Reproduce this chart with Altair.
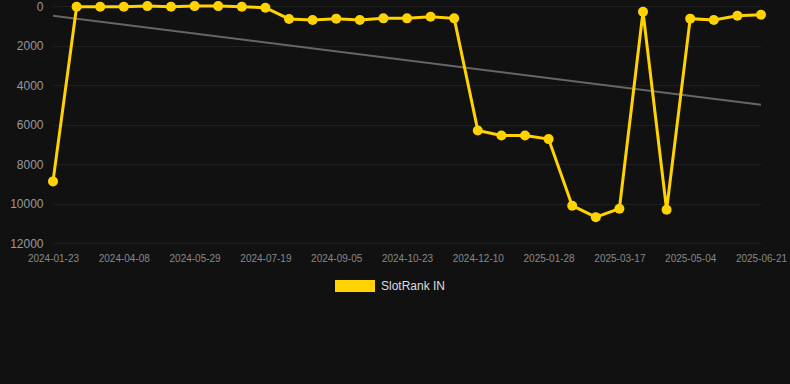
import altair as alt
import pandas as pd

dates = [
    "2024-01-23", "2024-02-14", "2024-03-12", "2024-04-08", "2024-04-25", "2024-05-12",
    "2024-05-29", "2024-06-15", "2024-07-02", "2024-07-19", "2024-08-04", "2024-08-20",
    "2024-09-05", "2024-09-21", "2024-10-07", "2024-10-23", "2024-11-08", "2024-11-24",
    "2024-12-10", "2024-12-26", "2025-01-12", "2025-01-28", "2025-02-13", "2025-03-01",
    "2025-03-17", "2025-04-02", "2025-04-18", "2025-05-04", "2025-05-20", "2025-06-05",
    "2025-06-21",
]
ranks = [
    8880, 35, 35, 35, 5, 35, 5, 5, 35, 85, 655, 705, 640, 705, 625, 625, 540, 625,
    6300, 6560, 6560, 6740, 10110, 10690, 10265, 290, 10315, 640, 705, 490, 440,
]
tick_labels = dates[::3]
trend_x = [dates[0], dates[-1]]
trend_y = [490, 5000]
series_name = "SlotRank IN"

YELLOW = "#FFD200"

df = pd.DataFrame({"date": dates, "rank": ranks, "series": series_name})
tdf = pd.DataFrame({"date": trend_x, "rank": trend_y})

x_enc = alt.X(
    "date:O",
    sort=dates,
    scale=alt.Scale(domain=dates, type="point", padding=0),
    axis=alt.Axis(values=tick_labels, labelAngle=0, title=None),
)
y_enc = alt.Y(
    "rank:Q",
    scale=alt.Scale(domain=[0, 12000], reverse=True, nice=False),
    axis=alt.Axis(values=[0, 2000, 4000, 6000, 8000, 10000, 12000], format="d", title=None),
)

trend = alt.Chart(tdf).mark_line(color="#666666", strokeWidth=2).encode(x=x_enc, y=y_enc)

color_enc = alt.Color(
    "series:N",
    scale=alt.Scale(domain=[series_name], range=[YELLOW]),
    legend=alt.Legend(
        title=None,
        orient="none",
        legendX=282,
        legendY=260,
        symbolType="M-1,-0.3L1,-0.3L1,0.3L-1,0.3Z",
        symbolSize=1600,
        symbolFillColor=YELLOW,
        symbolStrokeWidth=0,
        labelColor="#dddddd",
        labelFontSize=12,
        labelFont="Liberation Sans",
        labelOffset=6,
    ),
)

line = alt.Chart(df).mark_line(strokeWidth=3).encode(x=x_enc, y=y_enc, color=color_enc)
pts = alt.Chart(df).mark_circle(size=100, opacity=1).encode(
    x=x_enc, y=y_enc, color=alt.Color("series:N", scale=alt.Scale(domain=[series_name], range=[YELLOW]), legend=None)
)

chart = (
    alt.layer(trend, line, pts)
    .properties(
        width=708,
        height=237,
        background="#111111",
        padding={"left": 53, "top": 6, "right": 29, "bottom": 141},
        autosize=alt.AutoSizeParams(type="none"),
    )
    .configure_view(stroke=None)
    .configure_axis(
        domain=False,
        ticks=False,
        gridColor="#1f1f1f",
        gridWidth=1,
        labelFont="Liberation Sans",
    )
    .configure_axisX(labelColor="#888888", labelFontSize=10, labelPadding=10)
    .configure_axisY(labelColor="#999999", labelFontSize=12, labelPadding=10)
)

chart.save("out.html", embed_options={"renderer": "svg", "actions": False})
